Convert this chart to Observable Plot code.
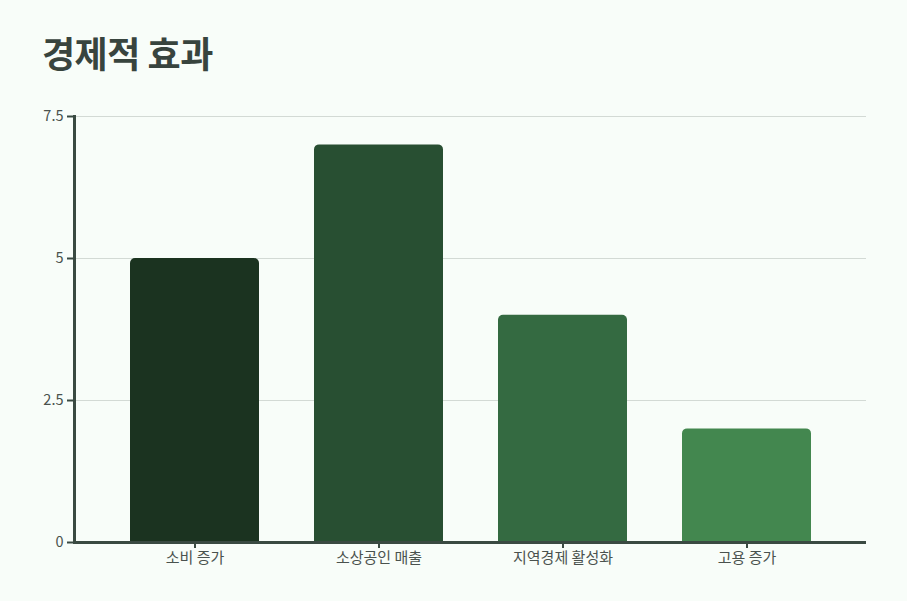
<!DOCTYPE html>
<html>
<head>
<meta charset="utf-8">
<script src="https://cdn.jsdelivr.net/npm/d3@7"></script>
<script src="https://cdn.jsdelivr.net/npm/@observablehq/plot@0.6"></script>
<style>
  html, body { margin: 0; padding: 0; background: #f8fdf9; }
  body { width: 907px; height: 601px; overflow: hidden; font-family: "Noto Sans CJK KR", "Noto Sans", sans-serif; }
  #title { position: absolute; left: 42px; top: 26px; margin: 0; font-size: 36px; font-weight: 700; color: #38443e; letter-spacing: -0.5px; line-height: 52px; }
  #chart { position: absolute; left: 0; top: 90px; }
</style>
</head>
<body>
<h1 id="title">경제적 효과</h1>
<div id="chart"></div>
<script>
const categories = ["소비 증가", "소상공인 매출", "지역경제 활성화", "고용 증가"];
const values = [5, 7, 4, 2];
const colors = ["#1b3320", "#284f32", "#346a41", "#43874f"];
const yTicks = [0, 2.5, 5, 7.5];

const data = categories.map((c, i) => ({category: c, value: values[i]}));

const plot = Plot.plot({
  width: 907,
  height: 510,
  marginTop: 26,
  marginLeft: 74,
  marginRight: 41,
  marginBottom: 58,
  style: {background: "transparent", fontFamily: "'Noto Sans CJK KR', 'Noto Sans', sans-serif", fontSize: "15px", color: "#4a524e"},
  x: {domain: categories, padding: 0.3, label: null},
  y: {domain: [0, 7.5], label: null},
  color: {domain: categories, range: colors},
  marks: [
    Plot.gridY(yTicks, {stroke: "#d3dad5", strokeOpacity: 1, strokeWidth: 1}),
    Plot.rectY(data, {
      x: "category",
      y1: -0.2,
      y2: "value",
      fill: "category",
      rx: 5,
      clip: true
    }),
    Plot.axisY(yTicks, {tickSize: 7, tickPadding: 4, stroke: "#3a4a42", strokeWidth: 2, fill: "#4a524e", fontSize: 14.5, tickFormat: d => String(d)}),
    Plot.axisX({tickSize: 6, tickPadding: 4, stroke: "#3a4a42", strokeWidth: 2, fill: "#4a524e", fontSize: 15}),
    Plot.frame({anchor: "left", stroke: "#3a4a42", strokeWidth: 3}),
    Plot.ruleY([0], {stroke: "#3a4a42", strokeWidth: 3})
  ]
});
document.getElementById("chart").appendChild(plot);
</script>
</body>
</html>
